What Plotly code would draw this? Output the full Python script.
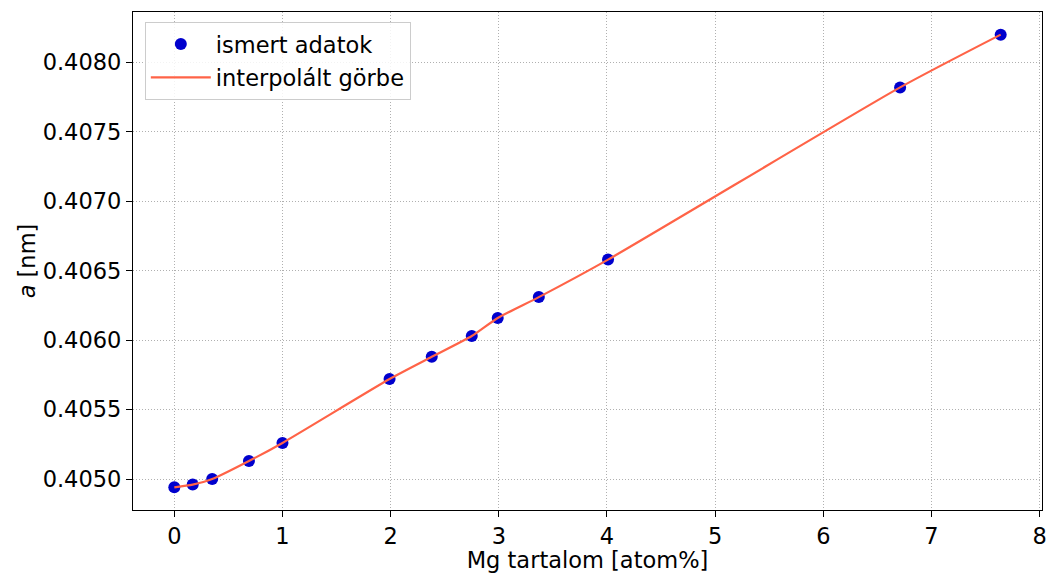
import plotly.graph_objects as go

# Mg content (atom%) and measured lattice parameter a (nm)
mg_content = [0.0, 0.17, 0.35, 0.69, 1.0, 1.99, 2.38, 2.75, 2.99, 3.37, 4.01, 6.71, 7.64]
lattice_a = [0.40494, 0.40496, 0.40500, 0.40513, 0.40526, 0.40572, 0.40588,
             0.40603, 0.40616, 0.40631, 0.40658, 0.40782, 0.40820]

x_ticks = [0, 1, 2, 3, 4, 5, 6, 7, 8]
y_ticks = [0.4050, 0.4055, 0.4060, 0.4065, 0.4070, 0.4075, 0.4080]

FONT = "DejaVu Sans"
FS = 22.5

fig = go.Figure()

fig.add_trace(go.Scatter(
    x=mg_content, y=lattice_a, mode="markers", name="ismert adatok",
    marker=dict(color="#0000CD", size=12, line=dict(width=0)),
    legendgroup="a",
))

fig.add_trace(go.Scatter(
    x=mg_content, y=lattice_a, mode="lines", name="interpolált görbe",
    line=dict(color="#FF6347", width=2.2, shape="spline", smoothing=0.6),
    legendgroup="b",
))

axis_common = dict(
    showline=True, mirror=True, linecolor="black", linewidth=1.2,
    ticks="outside", ticklen=6, tickwidth=1.2, tickcolor="black",
    showgrid=True, gridcolor="#b0b0b0", gridwidth=1, griddash="1px,2px",
    zeroline=False, automargin=False,
    tickfont=dict(family=FONT, size=FS, color="black"),
)

fig.update_xaxes(
    range=[-0.382, 8.022], tickvals=x_ticks,
    title=dict(text="Mg tartalom [atom%]", font=dict(family=FONT, size=FS, color="black"),
               standoff=2),
    **axis_common,
)
fig.update_yaxes(
    range=[0.404777, 0.408363], tickvals=y_ticks, tickformat=".4f",
    title=dict(text="<i>a</i> [nm]", font=dict(family=FONT, size=FS, color="black"),
               standoff=0),
    **axis_common,
)

fig.update_layout(
    width=1050, height=573,
    margin=dict(l=133, r=8, t=12, b=63),
    paper_bgcolor="white", plot_bgcolor="white",
    font=dict(family=FONT, size=FS, color="black"),
    showlegend=True,
    legend=dict(
        x=0.013, y=0.98, xanchor="left", yanchor="top",
        bgcolor="rgba(255,255,255,0.85)", bordercolor="#cccccc", borderwidth=1,
        font=dict(family=FONT, size=FS, color="black"),
        tracegroupgap=1, itemwidth=60,
    ),
)

fig.write_html("out.html")
